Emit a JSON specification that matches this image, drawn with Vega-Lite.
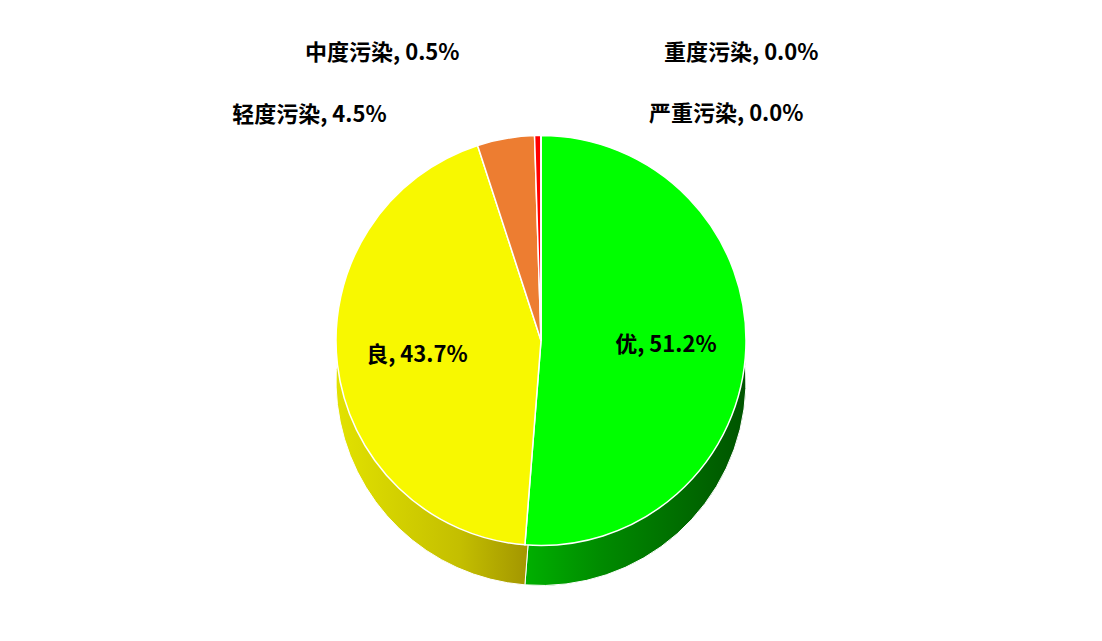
{
"$schema": "https://vega.github.io/schema/vega-lite/v6.json",
"width": 1102, "height": 641,
"autosize": {"type": "fit", "contains": "padding"},
"padding": {"left": 0, "right": 20, "top": 40, "bottom": 0},
"background": "white",
"config": {"view": {"stroke": null}, "text": {"font": "Noto Sans CJK SC"}},
"data": {"values": [
 {"idx": 1, "name": "优", "value": 51.2, "label": "优, 51.2%"},
 {"idx": 2, "name": "良", "value": 43.7, "label": "良, 43.7%"},
 {"idx": 3, "name": "轻度污染", "value": 4.5, "label": "轻度污染, 4.5%"},
 {"idx": 4, "name": "中度污染", "value": 0.5, "label": "中度污染, 0.5%"},
 {"idx": 5, "name": "重度污染", "value": 0.0, "label": "重度污染, 0.0%"},
 {"idx": 6, "name": "严重污染", "value": 0.0, "label": "严重污染, 0.0%"}
]},
"encoding": {
 "theta": {"field": "value", "type": "quantitative", "stack": true},
 "order": {"field": "idx", "type": "quantitative"},
 "detail": {"field": "name", "type": "nominal"}
},
"layer": [
 {"mark": {"type": "arc", "outerRadius": 205, "yOffset": 40, "stroke": "white", "strokeWidth": 1,
   "color": {"gradient": "linear", "x1": 0, "y1": 0, "x2": 1, "y2": 0,
     "stops": [{"offset": 0, "color": "#00b000"}, {"offset": 0.35, "color": "#008a00"}, {"offset": 1, "color": "#005400"}]}},
  "encoding": {"opacity": {"condition": {"test": "datum.name==='优'", "value": 1}, "value": 0}}},
 {"mark": {"type": "arc", "outerRadius": 205, "yOffset": 40, "stroke": "white", "strokeWidth": 1,
   "color": {"gradient": "linear", "x1": 0, "y1": 0, "x2": 1, "y2": 0,
     "stops": [{"offset": 0, "color": "#e2e200"}, {"offset": 0.6, "color": "#c4bf00"}, {"offset": 1, "color": "#9c8e00"}]}},
  "encoding": {"opacity": {"condition": {"test": "datum.name==='良'", "value": 1}, "value": 0}}},
 {"mark": {"type": "arc", "outerRadius": 205, "stroke": "white", "strokeWidth": 1.5},
  "encoding": {"color": {"field": "name", "type": "nominal",
    "scale": {"domain": ["优", "良", "轻度污染", "中度污染", "重度污染", "严重污染"],
              "range": ["#00FF00", "#F8F800", "#ED7D31", "#FF0000", "#990099", "#7E0023"]},
    "legend": null}}},
 {"mark": {"type": "text", "radius": 125, "fontSize": 22, "fontWeight": "bold", "color": "black"},
  "encoding": {"text": {"condition": {"test": "datum.name==='优'||datum.name==='良'", "field": "label"}, "value": ""}}},
 {"mark": {"type": "text", "radius": 229, "dx": -115, "align": "right", "baseline": "middle", "fontSize": 22, "fontWeight": "bold", "color": "black"},
  "encoding": {"text": {"condition": {"test": "datum.name==='轻度污染'", "field": "label"}, "value": ""}}},
 {"mark": {"type": "text", "radius": 288, "dx": -77, "align": "right", "baseline": "middle", "fontSize": 22, "fontWeight": "bold", "color": "black"},
  "encoding": {"text": {"condition": {"test": "datum.name==='中度污染'", "field": "label"}, "value": ""}}},
 {"mark": {"type": "text", "radius": 288, "dx": 123, "align": "left", "baseline": "middle", "fontSize": 22, "fontWeight": "bold", "color": "black"},
  "encoding": {"text": {"condition": {"test": "datum.name==='重度污染'", "field": "label"}, "value": ""}}},
 {"mark": {"type": "text", "radius": 227, "dx": 108, "align": "left", "baseline": "middle", "fontSize": 22, "fontWeight": "bold", "color": "black"},
  "encoding": {"text": {"condition": {"test": "datum.name==='严重污染'", "field": "label"}, "value": ""}}}
]
}
